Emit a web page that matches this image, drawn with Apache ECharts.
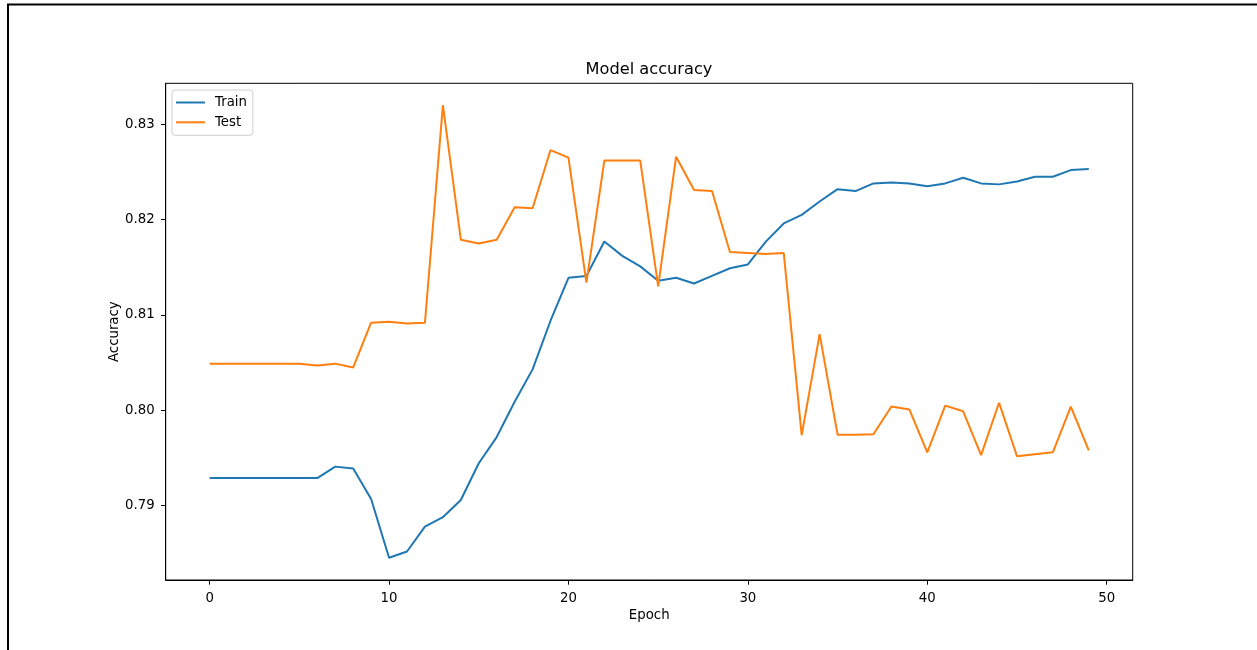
<!DOCTYPE html>
<html>
<head>
<meta charset="utf-8">
<script src="https://cdn.jsdelivr.net/npm/echarts@6/dist/echarts.min.js"></script>
<style>
html,body{margin:0;padding:0;background:#fff;}
#chart{width:1257px;height:650px;}
</style>
</head>
<body>
<div id="chart"></div>
<script>
const epochs = Array.from({length: 50}, (_, i) => i);
const trainAcc = [
  0.7929, 0.7929, 0.7929, 0.7929, 0.7929, 0.7929, 0.7929, 0.7941, 0.7939, 0.7907,
  0.78455, 0.7852, 0.7878, 0.7888, 0.7906, 0.79445, 0.7972, 0.8009, 0.8043, 0.8094,
  0.8139, 0.8141, 0.8177, 0.8162, 0.8151, 0.8136, 0.8139, 0.8133, 0.8141, 0.8149,
  0.8153, 0.8177, 0.8196, 0.8205, 0.8219, 0.8232, 0.8230, 0.8238, 0.8239, 0.8238,
  0.8235, 0.8238, 0.8244, 0.8238, 0.8237, 0.8240, 0.8245, 0.8245, 0.8252, 0.8253
];
const testAcc = [
  0.8049, 0.8049, 0.8049, 0.8049, 0.8049, 0.8049, 0.8047, 0.8049, 0.8045, 0.8092,
  0.8093, 0.8091, 0.8092, 0.8320, 0.8179, 0.8175, 0.8179, 0.8213, 0.8212, 0.8273,
  0.8265, 0.8134, 0.8262, 0.8262, 0.8262, 0.8130, 0.8266, 0.8231, 0.8230, 0.8166,
  0.8165, 0.8164, 0.8165, 0.7974, 0.8080, 0.79745, 0.79745, 0.7975, 0.8004, 0.8001,
  0.7956, 0.8005, 0.7999, 0.7953, 0.8008, 0.7952, 0.7954, 0.7956, 0.8004, 0.7958
];
const xTicks = [0, 10, 20, 30, 40, 50];
const yTicks = [0.79, 0.80, 0.81, 0.82, 0.83];

const FONT = '"DejaVu Sans", sans-serif';
const FS = 13.3;
const chart = echarts.init(document.getElementById('chart'), null, {renderer: 'canvas'});
chart.setOption({
  animation: false,
  backgroundColor: '#fff',
  title: {
    text: 'Model accuracy',
    left: 649,
    top: 62,
    padding: 0,
    textAlign: 'center',
    textStyle: {fontFamily: FONT, fontSize: 16.2, fontWeight: 'normal', color: '#000'}
  },
  legend: {
    orient: 'vertical',
    left: 172,
    top: 90,
    padding: [5, 6, 5.5, 4],
    icon: 'rect',
    itemWidth: 29,
    itemHeight: 2,
    itemGap: 4.8,
    borderColor: '#d0d0d0',
    borderWidth: 1,
    borderRadius: 3,
    backgroundColor: 'rgba(255,255,255,0.8)',
    textStyle: {fontFamily: FONT, fontSize: FS, lineHeight: 15, color: '#000', padding: [0, 0, 0, 5]},
    data: ['Train', 'Test']
  },
  grid: {
    left: 165.7, top: 83.3, right: 124.3, bottom: 70,
    show: true, borderColor: '#000', borderWidth: 1, backgroundColor: 'transparent'
  },
  xAxis: {
    type: 'value',
    min: -2.45, max: 51.45,
    name: 'Epoch',
    nameLocation: 'middle',
    nameGap: 29.5,
    nameMoveOverlap: false,
    nameTextStyle: {fontFamily: FONT, fontSize: FS, color: '#000'},
    axisLine: {show: true, onZero: false, lineStyle: {color: '#000', width: 1}},
    axisTick: {show: true, length: 4.7, lineStyle: {color: '#000', width: 1}, customValues: xTicks},
    axisLabel: {fontFamily: FONT, fontSize: FS, color: '#000', margin: 12, customValues: xTicks, formatter: v => String(v)},
    splitLine: {show: false}
  },
  yAxis: {
    type: 'value',
    min: 0.78221, max: 0.8343,
    name: 'Accuracy',
    nameLocation: 'middle',
    nameGap: 45,
    nameRotate: 90,
    nameMoveOverlap: false,
    nameTextStyle: {fontFamily: FONT, fontSize: FS, color: '#000'},
    axisLine: {show: true, onZero: false, lineStyle: {color: '#000', width: 1}},
    axisTick: {show: true, length: 4.7, lineStyle: {color: '#000', width: 1}, customValues: yTicks},
    axisLabel: {fontFamily: FONT, fontSize: FS, color: '#000', margin: 11, customValues: yTicks, formatter: v => v.toFixed(2)},
    splitLine: {show: false}
  },
  series: [
    {
      name: 'Train', type: 'line', symbol: 'none', showSymbol: false,
      color: '#1f77b4',
      itemStyle: {color: '#1f77b4'},
      lineStyle: {color: '#1f77b4', width: 2},
      data: epochs.map((e, i) => [e, trainAcc[i]])
    },
    {
      name: 'Test', type: 'line', symbol: 'none', showSymbol: false,
      color: '#ff7f0e',
      itemStyle: {color: '#ff7f0e'},
      lineStyle: {color: '#ff7f0e', width: 2},
      data: epochs.map((e, i) => [e, testAcc[i]])
    }
  ],
  graphic: [{
    type: 'rect',
    silent: true,
    shape: {x: 8, y: 4.5, width: 1400, height: 800},
    style: {fill: 'none', stroke: '#000', lineWidth: 2}
  }]
});
</script>
</body>
</html>
